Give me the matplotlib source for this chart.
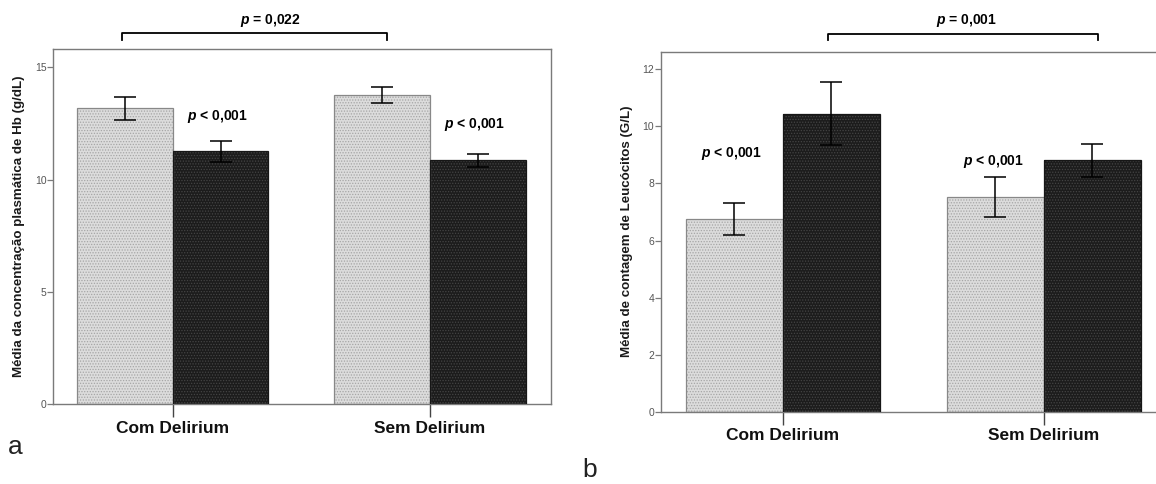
import matplotlib
matplotlib.use("Agg")
import matplotlib.pyplot as plt
import numpy as np

plt.rcParams['font.family'] = ['Liberation Sans', 'DejaVu Sans']
plt.rcParams['mathtext.fontset'] = 'custom'
plt.rcParams['mathtext.it'] = 'Liberation Sans:italic:bold'
plt.rcParams['mathtext.rm'] = 'Liberation Sans:bold'
plt.rcParams['hatch.linewidth'] = 0.6

# ---- data ----
categories = ["Com Delirium", "Sem Delirium"]

hb_light = [13.17, 13.76]
hb_light_lo = [12.65, 13.39]
hb_light_hi = [13.69, 14.13]
hb_dark = [11.28, 10.86]
hb_dark_lo = [10.79, 10.57]
hb_dark_hi = [11.73, 11.15]
hb_yticks = [0, 5, 10, 15]
hb_ylabel = "Média da concentração plasmática de Hb (g/dL)"

wbc_light = [6.75, 7.54]
wbc_light_lo = [6.18, 6.84]
wbc_light_hi = [7.33, 8.22]
wbc_dark = [10.43, 8.82]
wbc_dark_lo = [9.35, 8.24]
wbc_dark_hi = [11.55, 9.38]
wbc_yticks = [0, 2, 4, 6, 8, 10, 12]
wbc_ylabel = "Média de contagem de Leucócitos (G/L)"

p_between = ["0,022", "0,001"]
p_within = ["< 0,001", "< 0,001"]

W, H = 1156, 484
fig = plt.figure(figsize=(W / 100, H / 100), dpi=100)
fig.patch.set_facecolor('white')

def px_axes(l, r, t, b):
    return fig.add_axes([l / W, 1 - b / H, (r - l) / W, (b - t) / H])

bw = 0.372
LIGHT_FC, LIGHT_HC, LIGHT_EC = '#dcdcdc', '#a6a6a6', '#888888'
DARK_FC, DARK_HC, DARK_EC = '#1c1c1c', '#444444', '#161616'
SPINE = '#7a7a7a'

def draw_panel(ax, light, llo, lhi, dark, dlo, dhi, yticks, ylabel, ylim, xlim, lab_size, show_right=True):
    x = np.arange(len(categories))
    xl = x - bw / 2
    xd = x + bw / 2
    ax.bar(xl, light, width=bw, color=LIGHT_FC, edgecolor=LIGHT_HC, hatch='......', linewidth=0, zorder=2)
    ax.bar(xl, light, width=bw, fill=False, edgecolor=LIGHT_EC, linewidth=0.9, zorder=3)
    ax.bar(xd, dark, width=bw, color=DARK_FC, edgecolor=DARK_HC, hatch='......', linewidth=0, zorder=2)
    ax.bar(xd, dark, width=bw, fill=False, edgecolor=DARK_EC, linewidth=0.9, zorder=3)
    lerr = [np.array(light) - np.array(llo), np.array(lhi) - np.array(light)]
    derr = [np.array(dark) - np.array(dlo), np.array(dhi) - np.array(dark)]
    ax.errorbar(xl, light, yerr=lerr, fmt='none', ecolor='black', elinewidth=1.1, capsize=8.2, capthick=1.1, zorder=4)
    ax.errorbar(xd, dark, yerr=derr, fmt='none', ecolor='black', elinewidth=1.1, capsize=8.2, capthick=1.1, zorder=4)
    ax.set_xlim(*xlim)
    ax.set_ylim(*ylim)
    ax.set_yticks(yticks)
    ax.set_yticklabels([str(v) for v in yticks], fontsize=7.5, color='#555555')
    ax.tick_params(axis='y', length=4, width=0.9, color=SPINE, pad=1)
    ax.set_xticks(x)
    ax.set_xticklabels(categories, fontsize=12.5, fontweight='bold', color='#111111')
    ax.tick_params(axis='x', length=9, width=1.0, color='#444444', pad=3)
    for s in ax.spines.values():
        s.set_color(SPINE)
        s.set_linewidth(1.0)
    if not show_right:
        ax.spines['right'].set_visible(False)
    ax.set_ylabel(ylabel, fontsize=lab_size, fontweight='bold', color='#1a1a1a', labelpad=7)
    ax.set_facecolor('white')

# Left panel (a)
axL = px_axes(53.3, 550.7, 49.3, 404.0)
draw_panel(axL, hb_light, hb_light_lo, hb_light_hi, hb_dark, hb_dark_lo, hb_dark_hi,
           hb_yticks, hb_ylabel, (0, 15.8), (-0.464, 1.469), 9.6)
axL.plot([-0.196, -0.196, 0.834, 0.834], [16.21, 16.51, 16.51, 16.21], color='black', lw=1.3, clip_on=False)
axL.text(0.378, 17.07, r"$\it{p}$ = " + p_between[0], ha='center', va='center', fontsize=10, fontweight='bold')
axL.text(0.174, 12.80, r"$\it{p}$ " + p_within[0], ha='center', va='center', fontsize=10, fontweight='bold')
axL.text(1.173, 12.47, r"$\it{p}$ " + p_within[1], ha='center', va='center', fontsize=10, fontweight='bold')

# Right panel (b)
axR = px_axes(661.0, 1165.0, 51.7, 411.7)
draw_panel(axR, wbc_light, wbc_light_lo, wbc_light_hi, wbc_dark, wbc_dark_lo, wbc_dark_hi,
           wbc_yticks, wbc_ylabel, (0, 12.62), (-0.467, 1.464), 9.6)
axR.plot([0.174, 0.174, 1.206, 1.206], [13.03, 13.24, 13.24, 13.03], color='black', lw=1.3, clip_on=False)
axR.text(0.705, 13.70, r"$\it{p}$ = " + p_between[1], ha='center', va='center', fontsize=10, fontweight='bold')
axR.text(-0.197, 9.06, r"$\it{p}$ " + p_within[0], ha='center', va='center', fontsize=10, fontweight='bold')
axR.text(0.808, 8.76, r"$\it{p}$ " + p_within[1], ha='center', va='center', fontsize=10, fontweight='bold')

fig.text(15 / W, 1 - 447 / H, "a", fontsize=19, ha='center', va='center', color='#222222')
fig.text(590 / W, 1 - 470 / H, "b", fontsize=19, ha='center', va='center', color='#222222')

fig.savefig("out.png", dpi=100, facecolor='white')
